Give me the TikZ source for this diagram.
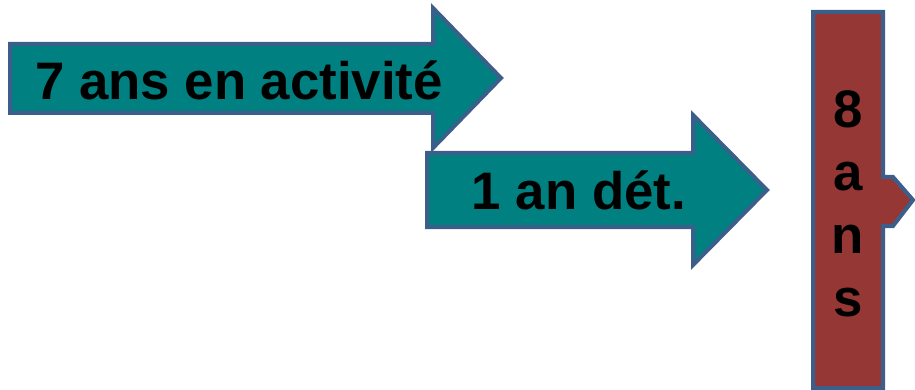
\documentclass[tikz,border=0pt]{standalone}
\usepackage{fontspec}
\setmainfont{Liberation Sans}
\definecolor{tealfill}{HTML}{008080}
\definecolor{edgeblue}{HTML}{3B5E8B}
\definecolor{barred}{HTML}{953735}
\begin{document}
\begin{tikzpicture}[x=1pt,y=-1pt,
  shapeedge/.style={draw=edgeblue,line width=4pt,line join=miter},
  label/.style={font=\fontsize{52.8}{63}\selectfont\bfseries,text=black,inner sep=0pt}]
\useasboundingbox (0,0) rectangle (915,390);
% arrow 1
\draw[shapeedge,fill=tealfill] (10,44) -- (433,44) -- (433,8) -- (501,78) -- (433,148) -- (433,113) -- (10,113) -- cycle;
% arrow 2
\draw[shapeedge,fill=tealfill] (427,153) -- (693,153) -- (693,115) -- (767,190) -- (693,265) -- (693,227) -- (427,227) -- cycle;
% bar
\draw[shapeedge,fill=barred] (813,12) -- (883,12) -- (883,177) -- (893,177) -- (913,200) -- (893,226) -- (883,226) -- (883,388) -- (813,388) -- cycle;
\node[label,anchor=base] (t1) at (239,100) {7 ans en activité};
\node[label,anchor=base] (t2) at (579,210) {1 an dét.};
\node[label,anchor=base,align=center] (t3) at (848,316) {8\\a\\n\\s};
\end{tikzpicture}
\end{document}
